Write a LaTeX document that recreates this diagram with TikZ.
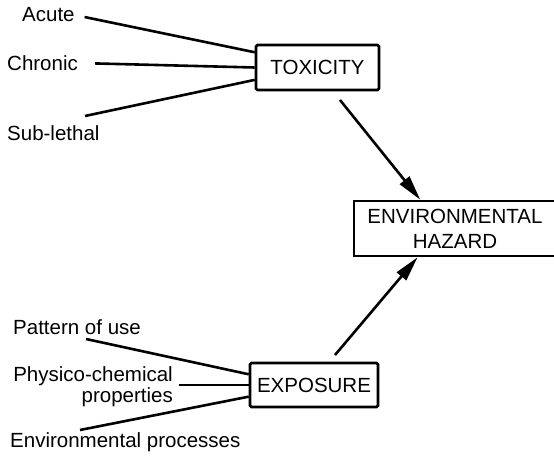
\documentclass[tikz,border=0pt]{standalone}
\usepackage{fontspec}
\setmainfont{Liberation Sans}
\usetikzlibrary{arrows.meta,calc}
\begin{document}
\begin{tikzpicture}[x=1pt,y=-1pt,
  lbl/.style={inner sep=0pt,font=\fontsize{20.5}{21}\selectfont},
  boxnode/.style={draw,line width=2.6pt,rounded corners=1.5pt,inner sep=0pt,font=\fontsize{20.5}{25}\selectfont,align=center},
  feed/.style={line width=2.6pt},
  arr/.style={line width=2.6pt,-{Triangle[length=25pt,width=12pt]}}]
\useasboundingbox (0,0) rectangle (554,455);
% factor labels
\node[lbl,anchor=west] (acute) at (22,15) {Acute};
\node[lbl,anchor=west] (chronic) at (7,63) {Chronic};
\node[lbl,anchor=west] (sublethal) at (7,133) {Sub-lethal};
\node[lbl,anchor=west] (pattern) at (13,327) {Pattern of use};
\node[lbl,anchor=east,align=right] (physico) at (173,386.5) {Physico-chemical\\properties};
\node[lbl,anchor=west] (envproc) at (10,442) {Environmental processes};
% boxes
\node[boxnode,minimum width=123pt,minimum height=45pt] (tox) at (317.5,67.5) {TOXICITY};
\node[boxnode,minimum width=128pt,minimum height=44pt] (exp) at (314,385) {EXPOSURE};
\node[boxnode,minimum width=202pt,minimum height=55pt,rounded corners=0pt] (haz) at (455,228.5) {ENVIRONMENTAL\\HAZARD};
% free ends
\coordinate (slstart) at (85,116);
\coordinate (pustart) at (86,339);
\coordinate (epstart) at (80,430);
\coordinate (toxout) at (340,100);
\coordinate (expout) at (335,355);
% feeds into TOXICITY
\draw[feed,shorten <=10pt] (acute.east) -- ($(tox.north west)!0.18!(tox.south west)$);
\draw[feed,shorten <=17pt] (chronic.east) -- (tox.west);
\draw[feed] (slstart) -- ($(tox.north west)!0.76!(tox.south west)$);
% feeds into EXPOSURE
\draw[feed] (pustart) -- ($(exp.north west)!0.27!(exp.south west)$);
\draw[feed,shorten <=6pt] (physico.east |- exp.west) -- (exp.west);
\draw[feed] (epstart) -- ($(exp.north west)!0.75!(exp.south west)$);
% arrows into HAZARD
\draw[arr] (toxout) -- ($(haz.north west)!0.33!(haz.north east)$);
\draw[arr] (expout) -- ($(haz.south west)!0.317!(haz.south east)$);
\end{tikzpicture}
\end{document}
